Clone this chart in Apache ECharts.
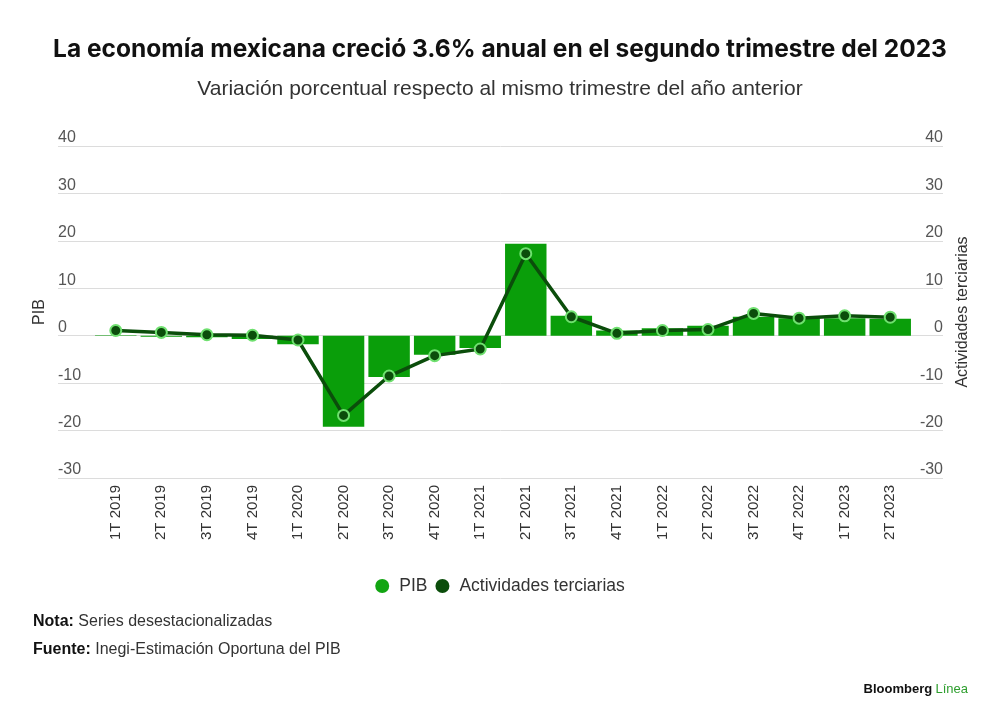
<!DOCTYPE html>
<html>
<head>
<meta charset="utf-8">
<script src="https://cdn.jsdelivr.net/npm/echarts@6/dist/echarts.min.js"></script>
<style>
html,body{margin:0;padding:0;background:#fff;}
#c{width:1000px;height:722px;}
</style>
</head>
<body>
<div id="c"></div>
<script>
const categories = ['1T 2019','2T 2019','3T 2019','4T 2019','1T 2020','2T 2020','3T 2020','4T 2020','1T 2021','2T 2021','3T 2021','4T 2021','1T 2022','2T 2022','3T 2022','4T 2022','1T 2023','2T 2023'];
const pib = [0.1, -0.2, -0.3, -0.7, -1.8, -19.2, -8.7, -4.0, -2.6, 19.4, 4.2, 1.1, 1.6, 2.1, 4.0, 3.7, 3.7, 3.6];
const terciarias = [1.1, 0.7, 0.2, 0.1, -0.9, -16.8, -8.5, -4.2, -2.8, 17.3, 4.0, 0.5, 1.1, 1.3, 4.7, 3.7, 4.2, 3.9];
const yTicks = {min: -30, max: 40, interval: 10};

const chart = echarts.init(document.getElementById('c'));
const labelFont = 'Liberation Sans, Arial, sans-serif';
const yLabel = (align) => ({
  inside: true, margin: 0, align: align, verticalAlign: 'bottom',
  padding: [0, 0, 0, 0], fontSize: 16, color: '#555', fontFamily: labelFont
});
chart.setOption({
  animation: false,
  backgroundColor: '#fff',
  title: [
    {text: 'La economía mexicana creció 3.6% anual en el segundo trimestre del 2023', left: 'center', top: 32,
     textStyle: {fontFamily: 'Inter, Liberation Sans, sans-serif', fontWeight: 'bold', fontSize: 24.5, color: '#111'}},
    {text: 'Variación porcentual respecto al mismo trimestre del año anterior', left: 'center', top: 74,
     textStyle: {fontFamily: labelFont, fontWeight: 'normal', fontSize: 21, color: '#333'}}
  ],
  legend: {
    top: 572, left: 'center', icon: 'circle', itemWidth: 14, itemHeight: 14, itemGap: 8,
    textStyle: {fontFamily: labelFont, fontSize: 17.5, color: '#333', padding: [0, 0, 0, 5]},
    data: [
      {name: 'PIB', itemStyle: {color: '#12a512', borderWidth: 0}},
      {name: 'Actividades terciarias', itemStyle: {color: '#0b4d0b', borderWidth: 0}}
    ]
  },
  grid: [
    {left: 58, right: 57, top: 146, bottom: 244},
    {left: 93, right: 87, top: 146, bottom: 244}
  ],
  xAxis: [
    {type: 'value', gridIndex: 0, show: false},
    {type: 'category', gridIndex: 1, data: categories,
     axisLine: {show: false}, axisTick: {show: false},
     axisLabel: {rotate: 90, margin: 7, fontSize: 15, color: '#333', fontFamily: labelFont, interval: 0}}
  ],
  yAxis: [
    {type: 'value', gridIndex: 0, position: 'left', min: yTicks.min, max: yTicks.max, interval: yTicks.interval,
     name: 'PIB', nameLocation: 'middle', nameGap: 10, nameRotate: 90,
     nameTextStyle: {fontFamily: labelFont, fontSize: 16, color: '#333'},
     axisLine: {show: false}, axisTick: {show: false}, axisLabel: yLabel('left'),
     splitLine: {lineStyle: {color: '#dcdcdc', width: 1}}},
    {type: 'value', gridIndex: 0, position: 'right', min: yTicks.min, max: yTicks.max, interval: yTicks.interval,
     name: 'Actividades terciarias', nameLocation: 'middle', nameGap: 12, nameRotate: 90,
     nameTextStyle: {fontFamily: labelFont, fontSize: 16, color: '#333'},
     axisLine: {show: false}, axisTick: {show: false}, axisLabel: yLabel('right'),
     splitLine: {show: false}},
    {type: 'value', gridIndex: 1, min: yTicks.min, max: yTicks.max, show: false},
    {type: 'value', gridIndex: 1, min: yTicks.min, max: yTicks.max, show: false}
  ],
  series: [
    {name: 'PIB', type: 'bar', xAxisIndex: 1, yAxisIndex: 2, data: pib, barWidth: '91%',
     itemStyle: {color: '#0a9e0a'}},
    {name: 'Actividades terciarias', type: 'line', xAxisIndex: 1, yAxisIndex: 3, data: terciarias,
     symbol: 'circle', symbolSize: 11,
     lineStyle: {color: '#0b4d0b', width: 3.5},
     itemStyle: {color: '#0b4d0b', borderColor: '#6fe06f', borderWidth: 2}}
  ],
  graphic: [
    {type: 'text', left: 33, top: 614, style: {
      text: '{b|Nota:} Series desestacionalizadas',
      font: '16px Liberation Sans', fill: '#333',
      rich: {b: {fontWeight: 'bold', fontSize: 16, fontFamily: 'Liberation Sans', fill: '#111'}}}},
    {type: 'text', left: 33, top: 642, style: {
      text: '{b|Fuente:} Inegi-Estimación Oportuna del PIB',
      font: '16px Liberation Sans', fill: '#333',
      rich: {b: {fontWeight: 'bold', fontSize: 16, fontFamily: 'Liberation Sans', fill: '#111'}}}},
    {type: 'text', right: 32, top: 683, style: {
      text: '{b|Bloomberg} {g|Línea}',
      rich: {b: {fontWeight: 'bold', fontSize: 13, fontFamily: 'Liberation Sans', fill: '#111'},
             g: {fontSize: 13, fontFamily: 'Liberation Sans', fill: '#2e9e2e'}}}}
  ]
});
</script>
</body>
</html>
